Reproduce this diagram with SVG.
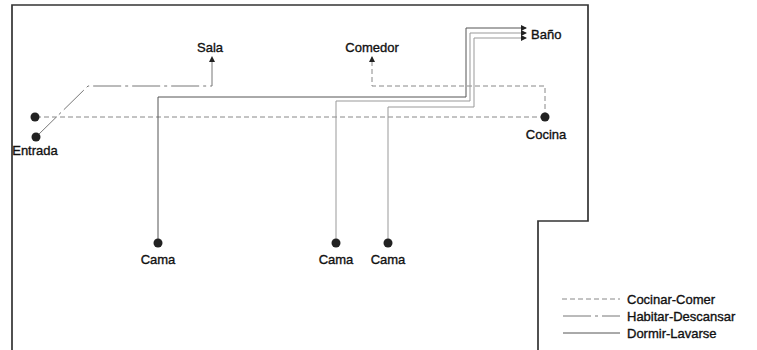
<svg xmlns="http://www.w3.org/2000/svg" width="757" height="350" viewBox="0 0 757 350">
<style>
text{font-family:"Liberation Sans",Arial,sans-serif;font-size:13px;fill:#111;stroke:#111;stroke-width:0.35;}
.lbl{text-anchor:middle;}
.dot{fill:#222;}
.wall{fill:none;stroke:#333;stroke-width:1.7;}
.cc{fill:none;stroke:#888;stroke-width:1;stroke-dasharray:5,3;}
.hd{fill:none;stroke:#777;stroke-width:1;stroke-dasharray:28,4,3,4;}
.dl{fill:none;stroke:#555;stroke-width:1;}
.dl2{fill:none;stroke:#999;stroke-width:1;}
</style>
<defs>
<marker id="ah" viewBox="0 0 6 6" refX="5" refY="3" markerWidth="6" markerHeight="6" orient="auto" markerUnits="userSpaceOnUse">
<path d="M0,0 L6,3 L0,6 z" fill="#222"/>
</marker>
</defs>
<path class="wall" d="M12,350 V5 H588 V221 H538 V350"/>
<g id="connectors">
<path class="cc" d="M36,117 H545"/>
<path class="cc" d="M545,117 V86 H372 V57" marker-end="url(#ah)"/>
<path class="hd" d="M36,137 L88,86 H212 V57" marker-end="url(#ah)"/>
<path class="dl" d="M158,243 V97 H466 V28 H526" marker-end="url(#ah)"/>
<path class="dl2" d="M336,243 V101 H470 V33 H526" marker-end="url(#ah)"/>
<path class="dl2" d="M388,243 V107 H474 V38 H526" marker-end="url(#ah)"/>
</g>
<g id="entrada">
<circle class="dot" cx="35" cy="117" r="4.5"/>
<circle class="dot" cx="36" cy="137" r="4.5"/>
<text class="lbl" x="35" y="155">Entrada</text>
</g>
<g id="sala"><text class="lbl" x="210" y="52">Sala</text></g>
<g id="comedor"><text class="lbl" x="372" y="52">Comedor</text></g>
<g id="bano"><text x="531" y="39">Baño</text></g>
<g id="cocina">
<circle class="dot" cx="545" cy="117" r="4.5"/>
<text class="lbl" x="546" y="139">Cocina</text>
</g>
<g id="cama1">
<circle class="dot" cx="158" cy="243" r="4.5"/>
<text class="lbl" x="158" y="264">Cama</text>
</g>
<g id="cama2">
<circle class="dot" cx="336" cy="243" r="4.5"/>
<text class="lbl" x="336" y="264">Cama</text>
</g>
<g id="cama3">
<circle class="dot" cx="388" cy="243" r="4.5"/>
<text class="lbl" x="388" y="264">Cama</text>
</g>
<g id="legend">
<line class="cc" x1="562" y1="299" x2="620" y2="299"/>
<text x="627" y="304">Cocinar-Comer</text>
<line class="hd" x1="563" y1="316" x2="620" y2="316"/>
<text x="627" y="321">Habitar-Descansar</text>
<line class="dl" x1="563" y1="333" x2="620" y2="333"/>
<text x="627" y="338">Dormir-Lavarse</text>
</g>
</svg>
